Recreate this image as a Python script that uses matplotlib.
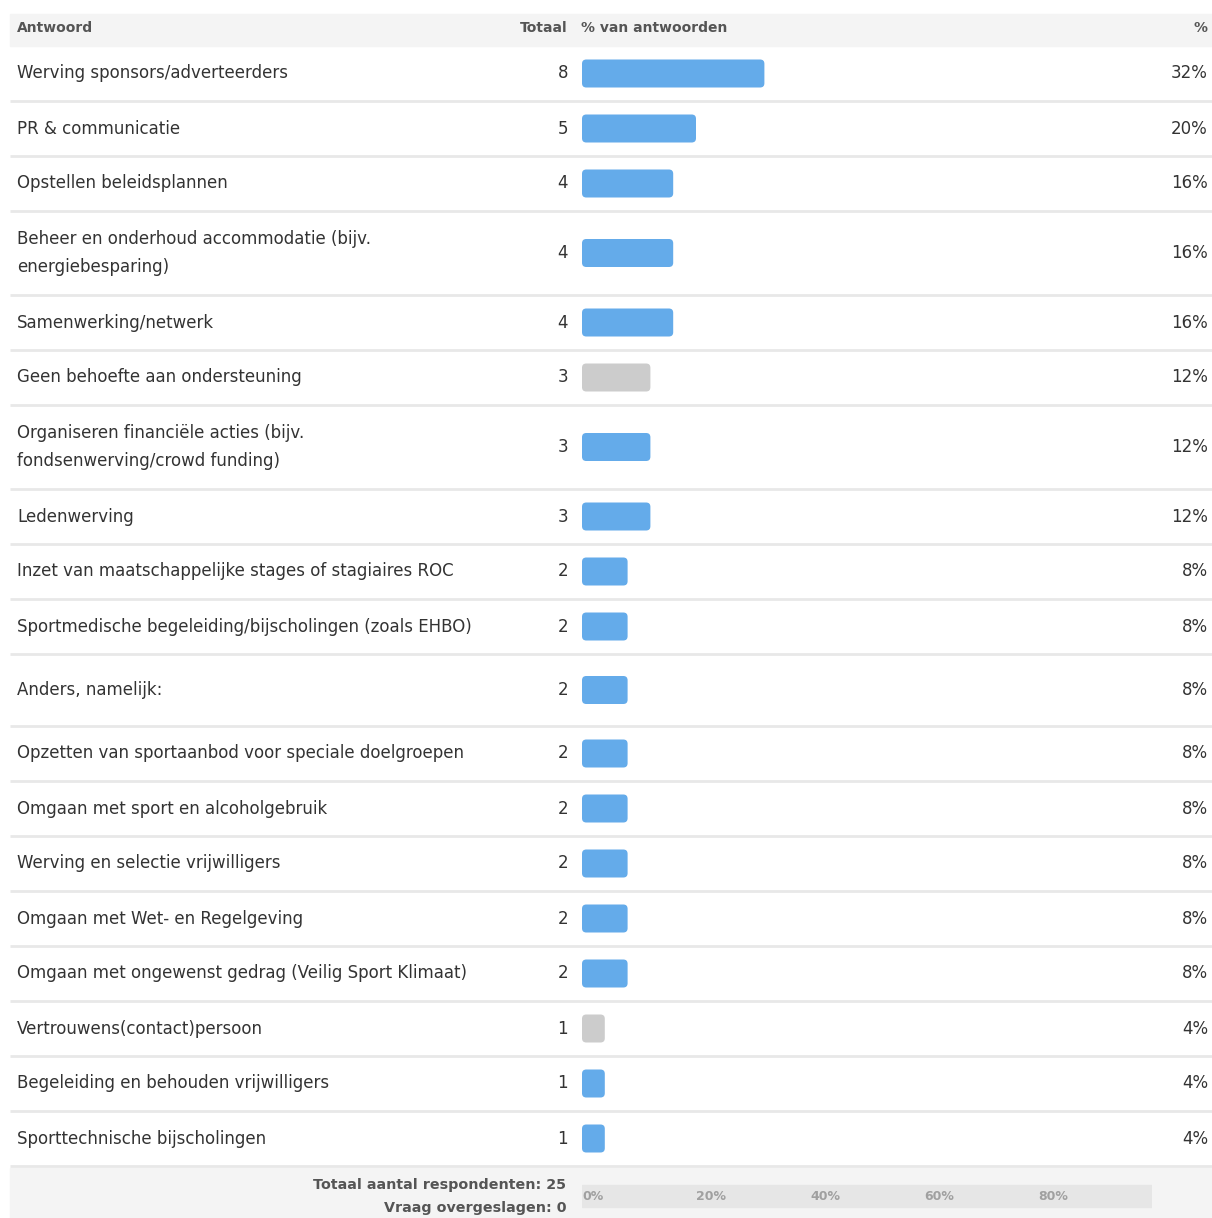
import matplotlib.pyplot as plt
from matplotlib.patches import FancyBboxPatch, Rectangle

# data
answers = [
    "Werving sponsors/adverteerders",
    "PR & communicatie",
    "Opstellen beleidsplannen",
    "Beheer en onderhoud accommodatie (bijv.\nenergiebesparing)",
    "Samenwerking/netwerk",
    "Geen behoefte aan ondersteuning",
    "Organiseren financiële acties (bijv.\nfondsenwerving/crowd funding)",
    "Ledenwerving",
    "Inzet van maatschappelijke stages of stagiaires ROC",
    "Sportmedische begeleiding/bijscholingen (zoals EHBO)",
    "Anders, namelijk:",
    "Opzetten van sportaanbod voor speciale doelgroepen",
    "Omgaan met sport en alcoholgebruik",
    "Werving en selectie vrijwilligers",
    "Omgaan met Wet- en Regelgeving",
    "Omgaan met ongewenst gedrag (Veilig Sport Klimaat)",
    "Vertrouwens(contact)persoon",
    "Begeleiding en behouden vrijwilligers",
    "Sporttechnische bijscholingen",
]
counts = [8, 5, 4, 4, 4, 3, 3, 3, 2, 2, 2, 2, 2, 2, 2, 2, 1, 1, 1]
grey_rows = ["Geen behoefte aan ondersteuning", "Vertrouwens(contact)persoon"]
respondents = 25
skipped = 0
axis_ticks = [0, 20, 40, 60, 80]

percents = [c / respondents * 100 for c in counts]

W, H = 1212, 1218
fig = plt.figure(figsize=(W / 100, H / 100), dpi=100)
ax = fig.add_axes([0, 0, 1, 1])
ax.set_xlim(0, W)
ax.set_ylim(H, 0)
ax.axis("off")

# bar axes: x in percent, y in pixels
bx0, bx1 = 582, 1152
bax = fig.add_axes([bx0 / W, 0, (bx1 - bx0) / W, 1])
bax.set_xlim(0, 100)
bax.set_ylim(H, 0)
bax.axis("off")
bax.patch.set_alpha(0)

blue = "#64abea"
grey = "#cccccc"
txt = "#333333"
head = "#555555"
fs = 12
hfs = 10

# header band
ax.add_patch(Rectangle((10, 14), W - 10, 32, color="#f4f4f4", zorder=0))
ax.text(17, 28, "Antwoord", fontsize=hfs, fontweight="bold", color=head, va="center")
ax.text(568, 28, "Totaal", fontsize=hfs, fontweight="bold", color=head, va="center", ha="right")
ax.text(581, 28, "% van antwoorden", fontsize=hfs, fontweight="bold", color=head, va="center")
ax.text(1208, 28, "%", fontsize=hfs, fontweight="bold", color=head, va="center", ha="right")

# row heights
heights = []
for a in answers:
    if "\n" in a:
        heights.append(84)
    elif a.startswith("Anders"):
        heights.append(72)
    else:
        heights.append(55)

y = 46
bar_h = 28
r = 0.75  # corner radius in percent units
for a, c, p, h in zip(answers, counts, percents, heights):
    yc = y + h / 2
    ax.text(17, yc, a, fontsize=fs, color=txt, va="center", linespacing=1.77)
    ax.text(568, yc, str(c), fontsize=fs, color=txt, va="center", ha="right")
    ax.text(1208, yc, f"{p:.0f}%", fontsize=fs, color=txt, va="center", ha="right")
    col = grey if a in grey_rows else blue
    bax.add_patch(FancyBboxPatch((0, yc - bar_h / 2), p, bar_h,
                                 boxstyle=f"round,pad=0,rounding_size={r}",
                                 mutation_aspect=5.7, fc=col, ec="none"))
    y += h
    ax.plot([10, W], [y, y], color="#e8e8e8", lw=2, solid_capstyle="butt")

# footer
ax.add_patch(Rectangle((10, y + 2), W - 10, H - y - 2, color="#f4f4f4", zorder=0))
ax.text(566, 1185, f"Totaal aantal respondenten: {respondents}", fontsize=10.3,
        fontweight="bold", color=head, va="center", ha="right")
ax.text(566, 1208, f"Vraag overgeslagen: {skipped}", fontsize=10.3,
        fontweight="bold", color=head, va="center", ha="right")
bax.add_patch(Rectangle((0, 1185), 100, 22, color="#e6e6e6", zorder=1))
for t in axis_ticks:
    bax.text(t, 1196, f"{t}%", fontsize=9, fontweight="bold", color="#a0a0a0",
             va="center", ha="left", zorder=2)

fig.savefig("out.png", dpi=100)
